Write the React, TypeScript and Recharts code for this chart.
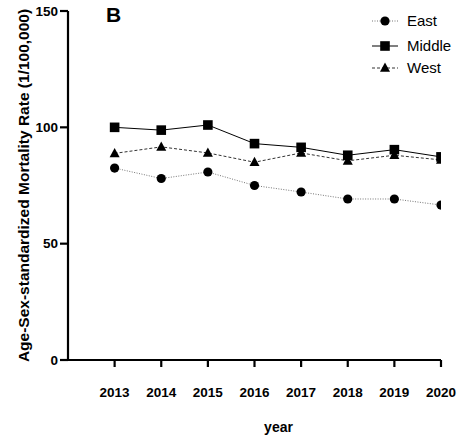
import React from 'react';
import { LineChart, Line, XAxis, YAxis } from 'recharts';

const years = [2013, 2014, 2015, 2016, 2017, 2018, 2019, 2020];
const east = [82.5, 78, 80.8, 75, 72.2, 69.2, 69.2, 66.6];
const middle = [100, 98.8, 101, 93, 91.4, 88, 90.4, 87.3];
const west = [88.8, 91.6, 89, 85, 89, 85.6, 88, 86];
const yTicks = [0, 50, 100, 150];

const data = years.map((year, i) => ({
  year,
  east: east[i],
  middle: middle[i],
  west: west[i],
}));

const font = '"Liberation Sans", Arial, sans-serif';

const CircleDot = (props: any) => {
  const { cx, cy } = props;
  if (cx == null || cy == null) return null;
  return <circle cx={cx} cy={cy} r={4.6} fill="#000" />;
};

const SquareDot = (props: any) => {
  const { cx, cy } = props;
  if (cx == null || cy == null) return null;
  return <rect x={cx - 4.8} y={cy - 4.8} width={9.6} height={9.6} fill="#000" />;
};

const TriangleDot = (props: any) => {
  const { cx, cy } = props;
  if (cx == null || cy == null) return null;
  return (
    <polygon
      points={`${cx},${cy - 5.5} ${cx - 5},${cy + 3.8} ${cx + 5},${cy + 3.8}`}
      fill="#000"
    />
  );
};

const legendItems = [
  { label: 'East', dash: '1 1.5', color: '#777', shape: 'circle' },
  { label: 'Middle', dash: undefined, color: '#000', shape: 'square' },
  { label: 'West', dash: '3 2', color: '#333', shape: 'triangle' },
];

const ChartLegend = () => (
  <svg
    width={100}
    height={80}
    style={{ position: 'absolute', left: 366, top: 10, overflow: 'visible' }}
  >
    {legendItems.map((item, i) => {
      const y = [11, 36, 58][i];
      const cx = 19;
      return (
        <g key={item.label}>
          <line
            x1={6}
            x2={32}
            y1={y}
            y2={y}
            stroke={item.color}
            strokeWidth={1}
            strokeDasharray={item.dash}
          />
          {item.shape === 'circle' && <CircleDot cx={cx} cy={y} />}
          {item.shape === 'square' && <SquareDot cx={cx} cy={y} />}
          {item.shape === 'triangle' && <TriangleDot cx={cx} cy={y} />}
          <text x={41} y={y + 5} fontSize={15} fontFamily={font} fill="#000">
            {item.label}
          </text>
        </g>
      );
    })}
  </svg>
);

export default function App() {
  return (
    <div style={{ position: 'absolute', left: 0, top: 0, width: 460, height: 443, background: '#fff' }}>
      <LineChart
        width={460}
        height={443}
        data={data}
        margin={{ top: 11, right: 19, bottom: 23, left: 18 }}
      >
        <XAxis
          dataKey="year"
          type="number"
          domain={[2012, 2020]}
          ticks={years}
          allowDataOverflow
          axisLine={{ stroke: '#000', strokeWidth: 2.2 }}
          tickLine={{ stroke: '#000', strokeWidth: 2.2 }}
          tickSize={7}
          tickMargin={20}
          height={60}
          tick={{ fill: '#000', fontSize: 13.5, fontWeight: 700, fontFamily: font }}
          label={{
            value: 'year',
            position: 'insideBottom',
            offset: 0,
            dx: 24,
            dy: 12,
            fill: '#000',
            fontSize: 14,
            fontWeight: 700,
            fontFamily: font,
          }}
        />
        <YAxis
          domain={[0, 150]}
          ticks={yTicks}
          width={50}
          axisLine={{ stroke: '#000', strokeWidth: 2.2 }}
          tickLine={{ stroke: '#000', strokeWidth: 2.2 }}
          tickSize={8}
          tickMargin={2}
          tick={{ fill: '#000', fontSize: 13.5, fontWeight: 700, fontFamily: font }}
          label={{
            value: 'Age-Sex-standardized Mortality Rate (1/100,000)',
            angle: -90,
            position: 'insideLeft',
            offset: 5,
            style: { textAnchor: 'middle' },
            fill: '#000',
            fontSize: 15.5,
            fontWeight: 700,
            fontFamily: font,
          }}
        />
        <Line
          dataKey="east"
          stroke="#777"
          strokeWidth={1}
          strokeDasharray="1 1.5"
          dot={<CircleDot />}
          activeDot={false}
          isAnimationActive={false}
        />
        <Line
          dataKey="west"
          stroke="#333"
          strokeWidth={1}
          strokeDasharray="3 2"
          dot={<TriangleDot />}
          activeDot={false}
          isAnimationActive={false}
        />
        <Line
          dataKey="middle"
          stroke="#000"
          strokeWidth={1}
          dot={<SquareDot />}
          activeDot={false}
          isAnimationActive={false}
        />
      </LineChart>
      <ChartLegend />
      <div
        style={{
          position: 'absolute',
          left: 106,
          top: 3,
          fontFamily: font,
          fontWeight: 700,
          fontSize: 21,
          color: '#000',
        }}
      >
        B
      </div>
    </div>
  );
}
